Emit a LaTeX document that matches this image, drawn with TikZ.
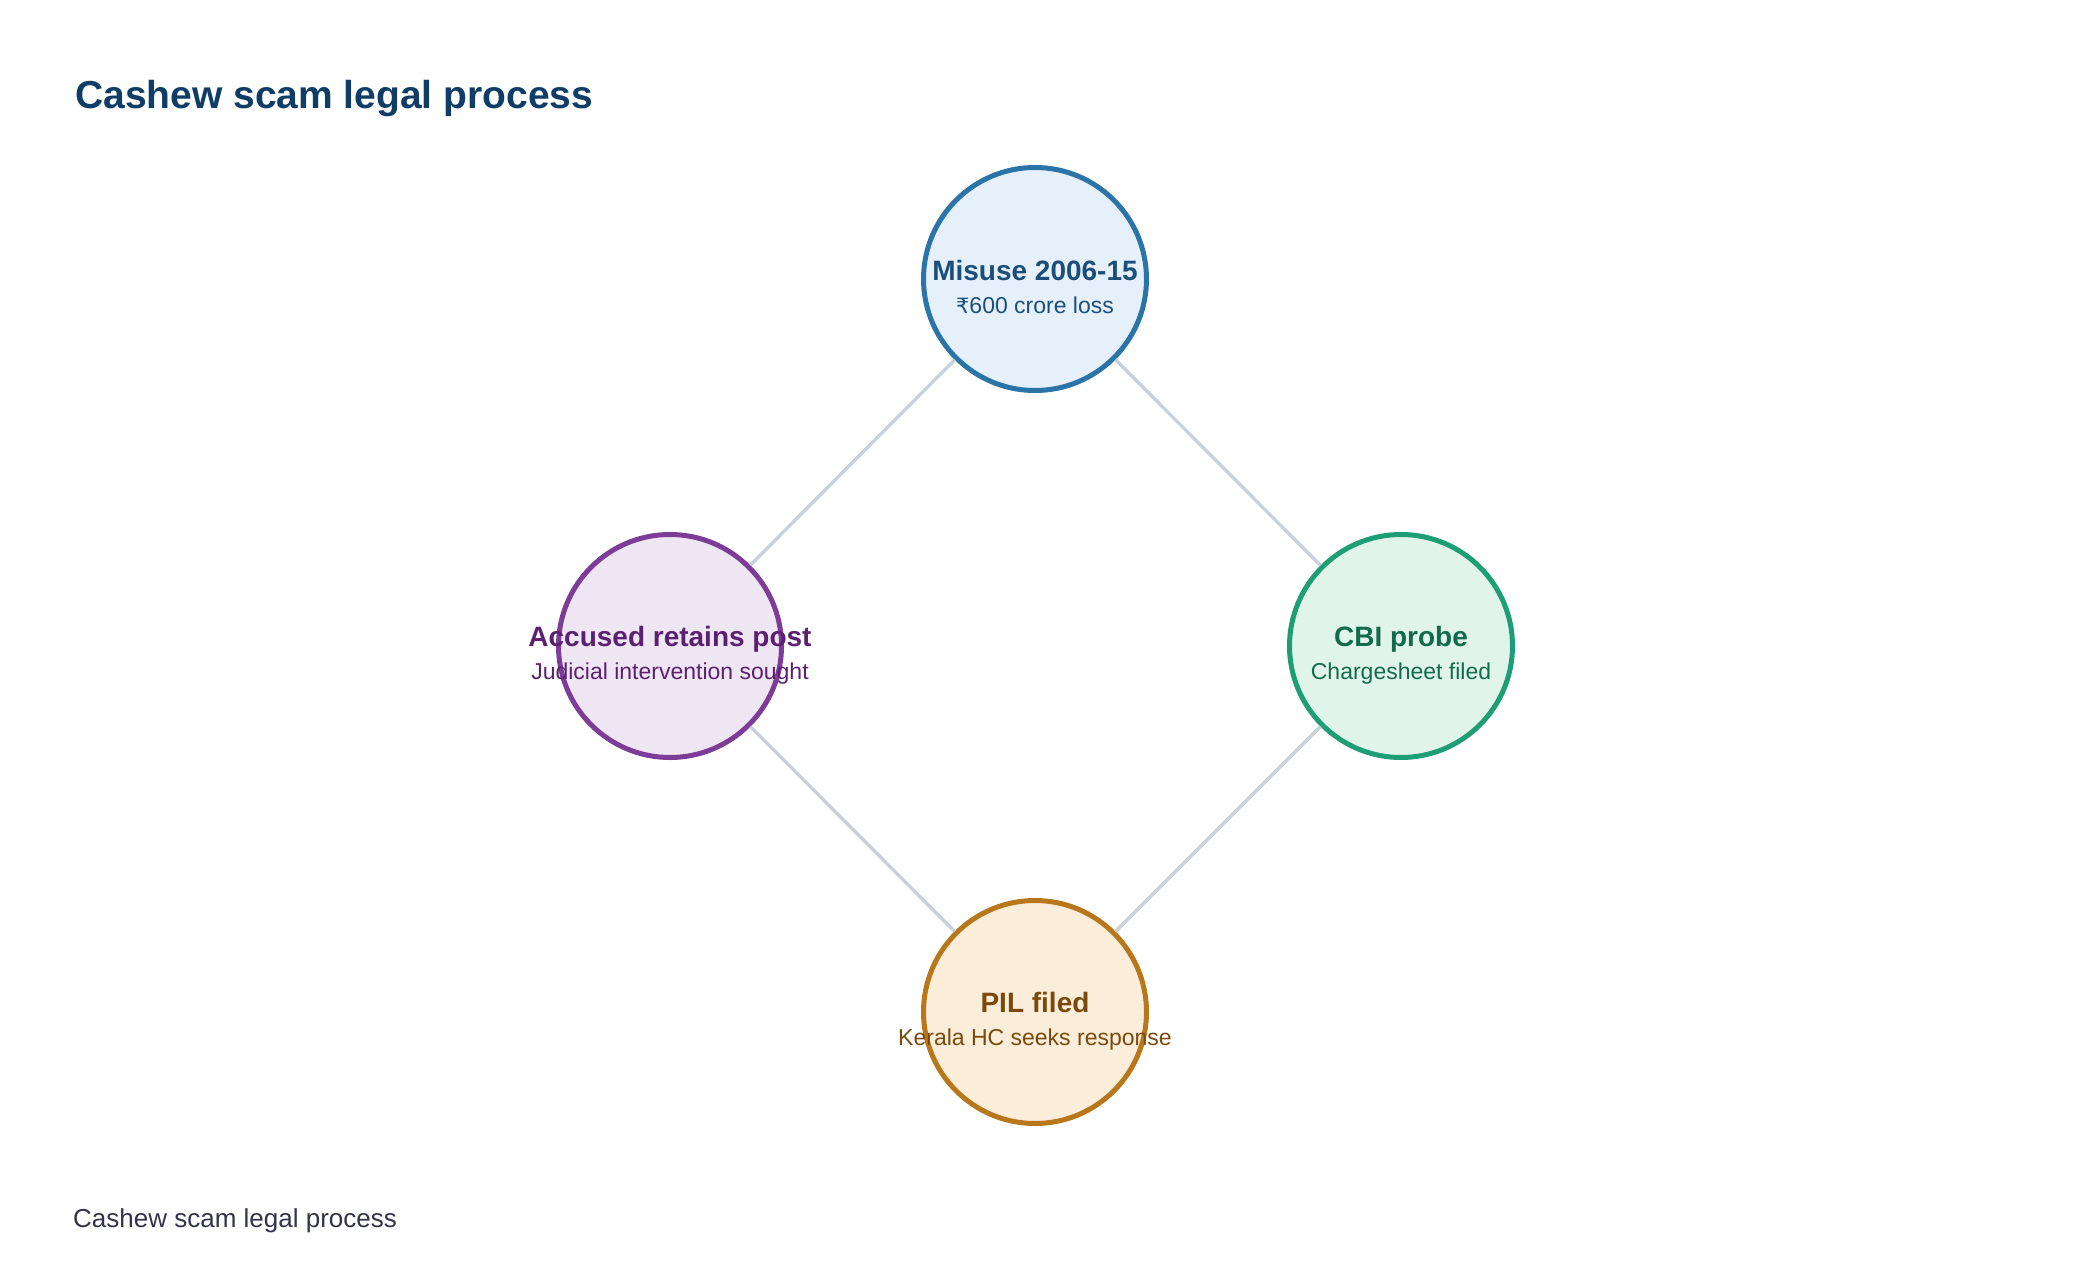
\documentclass[tikz,border=0pt]{standalone}
\usepackage{fontspec}
\setmainfont{Liberation Sans}
\newfontfamily\dejavufam{DejaVu Sans}
\begin{document}
\begin{tikzpicture}[x=1pt,y=-1pt,
  circ/.style={circle, minimum size=223pt, inner sep=0pt, line width=5pt},
  headtxt/.style={anchor=base, font=\fontsize{28}{32}\selectfont\bfseries},
  subtxt/.style={anchor=base, font=\fontsize{23}{27}\selectfont},
  conn/.style={draw=lineC, line width=3.3pt}]
\definecolor{lineC}{HTML}{C8D0DA}
\definecolor{titleC}{HTML}{0F3D66}
\definecolor{footC}{HTML}{33334A}
\definecolor{aFill}{HTML}{E6F0FA}\definecolor{aDraw}{HTML}{2A74A8}\definecolor{aText}{HTML}{1B4F7A}
\definecolor{bFill}{HTML}{EFE6F4}\definecolor{bDraw}{HTML}{7D3C98}\definecolor{bText}{HTML}{5B2170}
\definecolor{cFill}{HTML}{E0F4EC}\definecolor{cDraw}{HTML}{1E9E74}\definecolor{cText}{HTML}{126B4E}
\definecolor{dFill}{HTML}{FAEDD9}\definecolor{dDraw}{HTML}{B9771B}\definecolor{dText}{HTML}{7A4A0C}
\useasboundingbox[fill=white] (0,0) rectangle (2080,1284);
% circles
\node[circ, fill=aFill, draw=aDraw] (top) at (1035,279) {};
\node[circ, fill=bFill, draw=bDraw] (left) at (670,646) {};
\node[circ, fill=cFill, draw=cDraw] (right) at (1401,646) {};
\node[circ, fill=dFill, draw=dDraw] (bottom) at (1035,1012) {};
% connectors
\draw[conn] (top) -- (left);
\draw[conn] (top) -- (right);
\draw[conn] (left) -- (bottom);
\draw[conn] (right) -- (bottom);
% texts
\node[headtxt, text=aText] (topH) at (1035,280) {Misuse 2006-15};
\node[subtxt, text=aText] (topS) at (1035,313) {{\dejavufam\fontsize{21}{25}\selectfont ₹}600 crore loss};
\node[headtxt, text=bText] (leftH) at (670,646) {Accused retains post};
\node[subtxt, text=bText] (leftS) at (670,679) {Judicial intervention sought};
\node[headtxt, text=cText] (rightH) at (1401,646) {CBI probe};
\node[subtxt, text=cText] (rightS) at (1401,679) {Chargesheet filed};
\node[headtxt, text=dText] (bottomH) at (1035,1012) {PIL filed};
\node[subtxt, text=dText] (bottomS) at (1035,1045) {Kerala HC seeks response};
% title and footer
\node[anchor=base west, inner sep=0pt, text=titleC, font=\fontsize{39}{45}\selectfont\bfseries] (title) at (75,109) {Cashew scam legal process};
\node[anchor=base west, inner sep=0pt, text=footC, font=\fontsize{26}{30}\selectfont] (footer) at (73,1227) {Cashew scam legal process};
\end{tikzpicture}
\end{document}
